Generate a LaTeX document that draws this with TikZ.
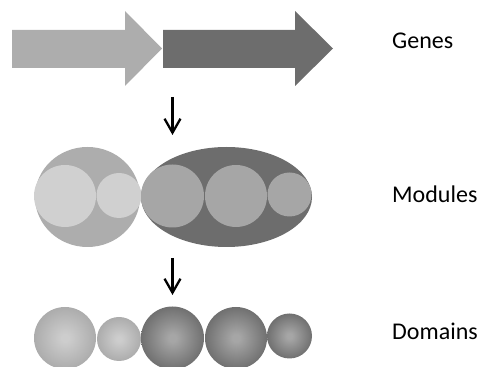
\documentclass[tikz,border=0pt]{standalone}
\usepackage{fontspec}
\setmainfont{Carlito}
\usetikzlibrary{arrows.meta,shapes.geometric}

% fills
\definecolor{geneLight}{RGB}{173,173,173}
\definecolor{geneDark}{RGB}{109,109,109}
\definecolor{modInLight}{RGB}{208,208,208}
\definecolor{modInDark}{RGB}{166,166,166}
\definecolor{ballLightIn}{RGB}{205,205,205}
\definecolor{ballLightOut}{RGB}{172,172,172}
\definecolor{ballDarkIn}{RGB}{166,166,166}
\definecolor{ballDarkOut}{RGB}{112,112,112}

% soft spheres for the domain row
\pgfdeclareradialshading{domlight}{\pgfpoint{0bp}{0bp}}{%
  color(0bp)=(ballLightIn); color(3bp)=(ballLightIn);
  color(25bp)=(ballLightOut); color(50bp)=(ballLightOut)}
\pgfdeclareradialshading{domdark}{\pgfpoint{0bp}{0bp}}{%
  color(0bp)=(ballDarkIn); color(3bp)=(ballDarkIn);
  color(25bp)=(ballDarkOut); color(50bp)=(ballDarkOut)}

\tikzset{
  blob/.style={inner sep=0pt, outer sep=0pt, draw=none},
  disc/.style={blob, circle, minimum size=#1},
  oval/.style={blob, ellipse},
  lightball/.style={disc=#1, shading=domlight},
  darkball/.style={disc=#1, shading=domdark},
  flow/.style={line width=2.3pt, -{Straight Barb[length=14pt,width=16pt]}},
  caption/.style={anchor=base west, inner sep=0pt, font=\fontsize{24}{28}\selectfont},
}

\begin{document}
\begin{tikzpicture}[x=1pt, y=1pt]
\useasboundingbox (0,0) rectangle (483,367);

% ---- genes: two block arrows ----
\fill[geneLight] (12,337) -- (125,337) -- (125,356) -- (162,318.5)
  -- (125,281) -- (125,299) -- (12,299) -- cycle;
\fill[geneDark] (163,337) -- (295,337) -- (295,356) -- (333,318.5)
  -- (295,281) -- (295,299) -- (163,299) -- cycle;
\node[caption] (genes) at (392,318) {Genes};

% ---- modules ----
\node[oval, fill=geneLight, minimum width=105, minimum height=100] (modA) at (87.5,170) {};
\node[oval, fill=geneDark, minimum width=171, minimum height=100] (modB) at (226.5,170) {};
\node[disc=62, fill=modInLight] (ma1) at (65,171) {};
\node[disc=45, fill=modInLight] (ma2) at (119,171.5) {};
\node[disc=63, fill=modInDark] (mb1) at (172.5,171) {};
\node[disc=62, fill=modInDark] (mb2) at (236,171) {};
\node[disc=44, fill=modInDark] (mb3) at (289.5,172.5) {};
\node[caption] (modules) at (392,164) {Modules};

% ---- domains ----
\node[lightball=62] (d1) at (65,29) {};
\node[lightball=44] (d2) at (119,28) {};
\node[darkball=63] (d3) at (172.5,29) {};
\node[darkball=62] (d4) at (236,29) {};
\node[darkball=45] (d5) at (289.5,31) {};
\node[caption] (domains) at (392,27) {Domains};

% ---- step arrows ----
\coordinate (s1a) at (172.5,270);
\coordinate (s1b) at (172.5,232);
\coordinate (s2a) at (172.5,109);
\coordinate (s2b) at (172.5,72);
\draw[flow] (s1a) -- (s1b);
\draw[flow] (s2a) -- (s2b);
\end{tikzpicture}
\end{document}
